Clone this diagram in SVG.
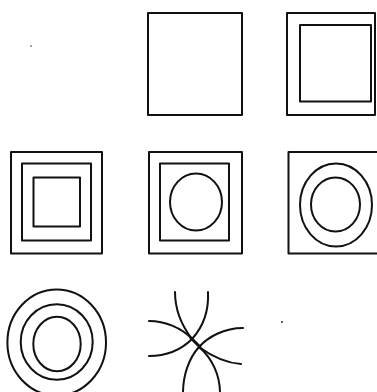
<svg xmlns="http://www.w3.org/2000/svg" width="377" height="392" viewBox="0 0 377 392">
<style>
.s{fill:none;stroke:#111;stroke-width:2;stroke-linejoin:round;stroke-linecap:round}
.d{fill:#333}
</style>
<rect width="377" height="392" fill="#fff"/>
<g id="fig1">
<rect class="s" x="148" y="13" width="94" height="102"/>
</g>
<g id="fig2">
<rect class="s" x="287" y="13" width="88" height="102"/>
<rect class="s" x="300" y="25" width="71" height="76.5"/>
</g>
<g id="fig3">
<rect class="s" x="11" y="152" width="91" height="101.5"/>
<rect class="s" x="22" y="163.5" width="69" height="77"/>
<rect class="s" x="33.5" y="177.5" width="46.5" height="49"/>
</g>
<g id="fig4">
<rect class="s" x="149" y="152" width="93" height="101.5"/>
<rect class="s" x="160" y="163.5" width="69" height="77"/>
<ellipse class="s" cx="196" cy="202" rx="26" ry="28.5"/>
</g>
<g id="fig5">
<rect class="s" x="288.5" y="152" width="92" height="101.5"/>
<ellipse class="s" cx="336" cy="205" rx="36" ry="41.5"/>
<ellipse class="s" cx="335.5" cy="204.5" rx="24.5" ry="27"/>
</g>
<g id="fig6">
<ellipse class="s" cx="56.7" cy="342.5" rx="49.3" ry="53"/>
<ellipse class="s" cx="56.7" cy="342" rx="36" ry="37.8"/>
<ellipse class="s" cx="57" cy="344" rx="23.7" ry="27.2"/>
</g>
<g id="fig7">
<path class="s" d="M175,292 C175,310 182,326 192,339"/>
<path class="s" d="M208,292 C209,312 202,328 192,339"/>
<path class="s" d="M149,321 C165,321 182,328 192,339"/>
<path class="s" d="M149,356 C167,356 182,349 192,339"/>
<path class="s" d="M243,328 C224,328 208,337 199,347"/>
<path class="s" d="M241,364 C226,363 210,355 199,347"/>
<path class="s" d="M183,393 C183,375 189,358 199,347"/>
<path class="s" d="M220,393 C220,375 212,358 199,347"/>
<path class="s" d="M191,338 L200,347" style="stroke-width:3"/>
</g>
<circle class="d" cx="31" cy="46" r="0.8"/>
<circle class="d" cx="282" cy="322" r="1"/>
</svg>
